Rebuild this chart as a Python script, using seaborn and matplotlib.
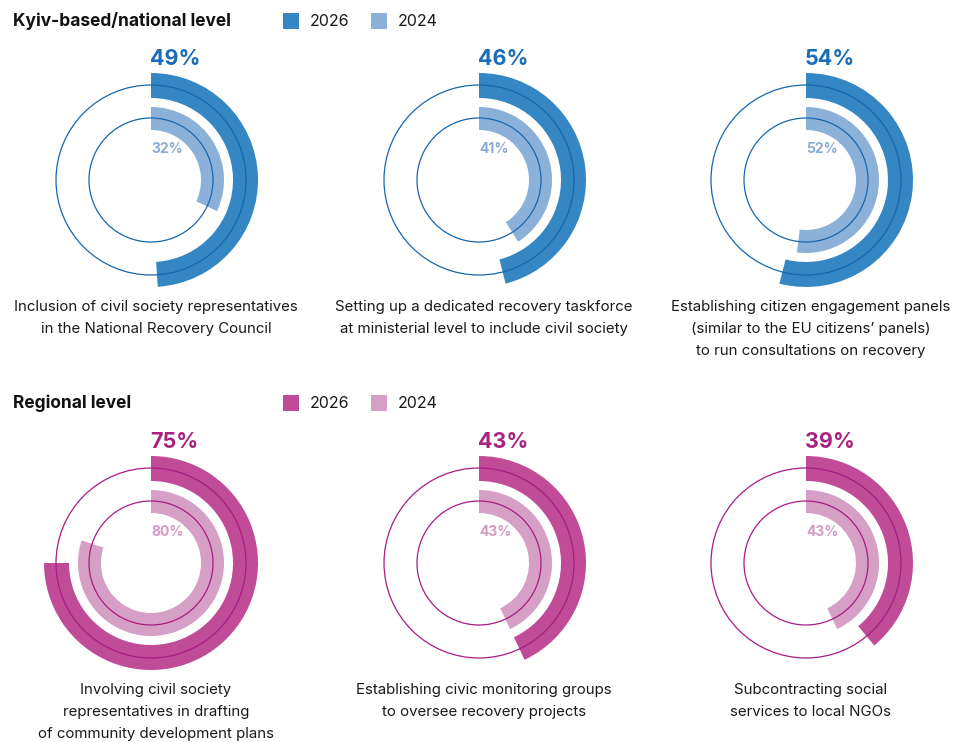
import matplotlib
matplotlib.use("Agg")
import matplotlib.pyplot as plt
from matplotlib.patches import Wedge, Circle, Rectangle
import seaborn as sns

# ---- data -------------------------------------------------------------
section_titles = ["Kyiv-based/national level", "Regional level"]
legend_years = ["2026", "2024"]

national_captions = [
    "Inclusion of civil society representatives\nin the National Recovery Council",
    "Setting up a dedicated recovery taskforce\nat ministerial level to include civil society",
    "Establishing citizen engagement panels\n(similar to the EU citizens\u2019 panels)\nto run consultations on recovery",
]
national_2026 = [49, 46, 54]
national_2024 = [32, 41, 52]

regional_captions = [
    "Involving civil society\nrepresentatives in drafting\nof community development plans",
    "Establishing civic monitoring groups\nto oversee recovery projects",
    "Subcontracting social\nservices to local NGOs",
]
regional_2026 = [75, 43, 39]
regional_2024 = [80, 43, 43]

# ---- style ------------------------------------------------------------
sns.set_theme(style="white")
plt.rcParams["font.family"] = ["Inter", "DejaVu Sans"]

blues = {"strong": "#3587c4", "light": "#8cb1d9", "line": "#1767ae",
         "label": "#1b6db5", "label_light": "#87acd7"}
pinks = {"strong": "#c04c98", "light": "#d69fc5", "line": "#a71d82",
         "label": "#a8237f", "label_light": "#d49bc2"}

W, H = 966, 742
fig = plt.figure(figsize=(W / 100, H / 100), dpi=100)
ax = fig.add_axes([0, 0, 1, 1])
ax.set_xlim(0, W)
ax.set_ylim(H, 0)
ax.axis("off")

col_x = [151, 479, 806]
R_OUT, W_OUT, C_OUT = 107, 25, 95
R_IN, W_IN, C_IN = 73, 23, 62


def ring(cx, cy, v_new, v_old, pal):
    # arcs start at 12 o'clock and run clockwise (y axis is inverted)
    ax.add_patch(Wedge((cx, cy), R_OUT, -90, -90 + 3.6 * v_new, width=W_OUT,
                       facecolor=pal["strong"], edgecolor="none", zorder=2))
    ax.add_patch(Wedge((cx, cy), R_IN, -90, -90 + 3.6 * v_old, width=W_IN,
                       facecolor=pal["light"], edgecolor="none", zorder=2))
    ax.add_patch(Circle((cx, cy), C_OUT, fill=False, edgecolor=pal["line"],
                        linewidth=0.9, zorder=3))
    ax.add_patch(Circle((cx, cy), C_IN, fill=False, edgecolor=pal["line"],
                        linewidth=0.9, zorder=3))
    ax.text(cx - 1, cy - 121, f"{v_new}%", ha="left", va="center",
            fontsize=15.5, fontweight="bold", color=pal["label"])
    ax.text(cx, cy - 31, f"{v_old}%", ha="left", va="center",
            fontsize=10, fontweight="bold", color=pal["label_light"])


def section(title, title_y, cy, cap_y, captions, new, old, pal):
    ax.text(13, title_y, title, ha="left", va="center", fontsize=12.5,
            fontweight="bold", color="#111111")
    for i, (lx, key) in enumerate(zip([283, 371], ["strong", "light"])):
        ax.add_patch(Rectangle((lx, title_y - 8), 16, 16, facecolor=pal[key],
                               edgecolor="none"))
        ax.text(lx + 27, title_y + 0.5, legend_years[i], ha="left", va="center",
                fontsize=11.5, color="#1a1a1a")
    for cx, cap, vn, vo in zip(col_x, captions, new, old):
        ring(cx, cy, vn, vo, pal)
        for j, line in enumerate(cap.split("\n")):
            ax.text(cx + 5, cap_y + 22 * j, line, ha="center", va="center",
                    fontsize=10.8, color="#1a1a1a")


section(section_titles[0], 21, 180, 307, national_captions,
        national_2026, national_2024, blues)
section(section_titles[1], 403, 563, 690, regional_captions,
        regional_2026, regional_2024, pinks)

fig.savefig("out.png", dpi=100, facecolor="white")
